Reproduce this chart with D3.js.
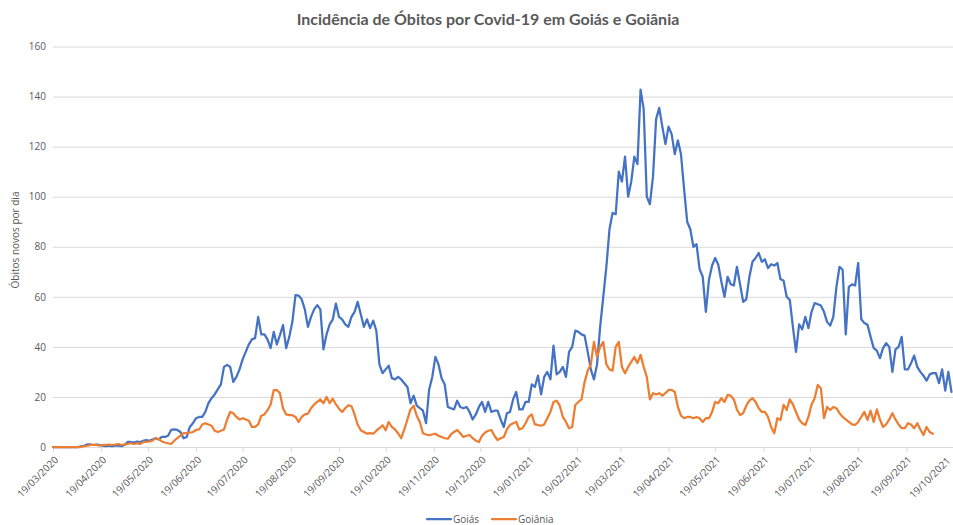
<!DOCTYPE html>
<html>
<head>
<meta charset="utf-8">
<script src="https://cdn.jsdelivr.net/npm/d3@7"></script>
<style>
  html, body { margin: 0; padding: 0; background: #fff; }
  svg { display: block; font-family: Lato, "Open Sans", sans-serif; }
</style>
</head>
<body>
<svg id="chart" width="953" height="525"></svg>
<script>
// Daily new deaths, sampled every 2 days starting 19/03/2020
const startDate = new Date(2020, 2, 19);
const stepDays = 2;

const goias = [
  0, 0, 0, 0, 0, 0, 0, 0, 0, 0.3, 0.5,
  1, 1, 0.8, 1, 0.8,
  0.5, 0.3, 0.5, 0.3, 0.5, 0.5, 0.3, 0.8,
  2, 2, 1.8, 2.2, 2, 2.5, 2.8,
  2.5, 3, 3.5, 3, 4, 4, 4.5, 6.8, 7, 6.8,
  6, 3.5, 4, 8, 9.5, 11.5, 12, 12, 14, 17.5,
  19.5, 21, 23, 25, 32, 32.8, 32, 26, 28, 31,
  35, 38, 41, 43, 43.5, 52, 45, 45, 43, 39.5,
  46, 41, 44.7, 48.7, 39.5, 44, 50, 60.7, 60.5, 59,
  55, 48, 52, 55, 56.7, 55, 39, 45, 49, 51,
  57.3, 52, 51, 49, 48, 52, 54, 58, 53, 48,
  51, 47.5, 50.5, 46.5, 33, 29.5, 31, 32.5, 27.5, 27,
  28, 27, 25.5, 24, 17.5, 20.5, 16.5, 15.5, 14.5, 9.5,
  23, 28, 36, 33, 27.5, 25, 16, 15.5, 15, 18.5,
  16, 15.5, 16, 14, 11, 13, 16, 18, 14, 18,
  14, 14.5, 14.5, 11, 8, 13.5, 14, 19, 22, 15,
  15, 18, 18, 25, 24, 28.5, 21, 28, 30, 27,
  40.5, 29, 30, 32, 28, 38, 40, 46.5, 46, 45,
  44.5, 38, 31, 27, 33, 48, 60, 72, 87, 93.5,
  93, 110, 106, 116, 100, 106, 116, 113, 142.8, 135,
  100, 97, 108, 131, 135.5, 128, 121, 128, 125, 117,
  122.5, 117, 103, 90, 87, 80, 81, 71, 68, 54,
  66.8, 72.5, 75.5, 72.8, 66, 60, 68, 65, 64.5, 72,
  65, 58, 59, 68, 74, 75.5, 77.5, 74, 75, 71.5,
  73, 72.5, 73.5, 67, 66.5, 60, 58.8, 48, 38, 49,
  47, 52, 47.5, 54, 57.5, 57, 56.5, 54, 50, 48.5,
  52, 64, 72, 70.8, 45, 64, 65, 64.5, 73.5, 51,
  49.5, 48.8, 44, 39.5, 38.5, 35.5, 39.5, 41.5, 40, 30,
  39, 40, 44, 31, 31, 33.5, 36.5, 32, 30, 28.5,
  26.5, 29, 29.5, 29.5, 25.5, 31, 22.5, 30, 22
];

const goiania = [
  0, 0, 0, 0, 0, 0, 0, 0, 0, 0, 0.3,
  0.5, 0.8, 0.8, 0.8, 0.5,
  0.8, 0.8, 1, 0.8, 1, 1.2, 0.8, 1,
  1.2, 1.5, 1.2, 1.5, 1.2, 2, 2,
  2.2, 2.5, 3.5, 3.2, 2.2, 1.8, 1.5, 1.2, 2.5, 3.5,
  4.5, 5.5, 5.5, 5.7, 6, 6.8, 7, 9, 9.5, 9,
  8.5, 6.5, 6, 6.5, 7, 11, 14, 13.5, 12, 11,
  11.5, 11, 10.5, 8, 8, 9, 12.5, 13, 14.7, 17,
  22.7, 22.7, 21.5, 15.5, 13, 12.7, 12.7, 12, 10, 12,
  13, 13.3, 15.5, 17, 18, 19, 17.5, 20, 17.5, 19.3,
  17, 15.3, 14, 15.5, 16.7, 16.3, 13, 9, 6.7, 6,
  5.3, 5.5, 5.3, 6.5, 7.5, 8.7, 6.7, 10, 8, 7,
  5.5, 3.5, 7, 11, 15, 16.5, 12.5, 10, 5.5, 5,
  4.7, 5, 5.3, 4.5, 4, 3.5, 3.3, 5, 6, 6.8,
  5.5, 4, 4.5, 4.8, 3.5, 2.5, 2, 4.5, 5.8, 6.5,
  6.8, 4.5, 2.8, 3.5, 4, 7, 8.8, 9.5, 10, 7,
  7.5, 9.5, 12, 13, 9, 8.8, 8.5, 9, 11.5, 14,
  18, 18.5, 16.5, 12, 10, 7.5, 8, 16.8, 18, 19,
  26, 30.5, 33, 42, 36, 40, 42, 33, 31, 30.5,
  40, 42, 32, 29.5, 32, 34, 36, 33.5, 36.8, 32,
  28, 19, 21.5, 21, 21.5, 20.5, 21.5, 22.8, 22.8, 22,
  16, 12.5, 11.5, 12, 12, 11.5, 12, 11.5, 10, 11.5,
  11.5, 14, 18, 17.5, 19.5, 18, 20.8, 20.5, 19, 15,
  12.8, 13.5, 16.5, 18.5, 19.5, 18, 15.5, 14, 14, 12,
  8, 5.5, 11.5, 10.8, 16.8, 14.8, 19, 17, 14, 11,
  9.5, 8.8, 12, 17, 19.5, 24.8, 23.5, 11.5, 16, 14.8,
  16, 15.5, 13.5, 12, 11, 10, 9, 8.8, 10, 12,
  14, 10.8, 14.5, 10, 15, 11, 8, 9, 11, 13.5,
  11, 9, 7.5, 7.5, 9.5, 9, 7.5, 9.5, 7, 4.8,
  8, 6, 5.3
];

const yTicks = [0, 20, 40, 60, 80, 100, 120, 140, 160];
const seriesNames = ["Goiás", "Goiânia"];
const seriesColors = ["#4472C4", "#ED7D31"];
const titleText = "Incidência de Óbitos por Covid-19 em Goiás e Goiânia";
const yAxisTitle = "Óbitos novos por dia";

const toPoints = arr => arr.map((v, i) => ({ date: d3.timeDay.offset(startDate, i * stepDays), value: v }));
const series = [toPoints(goias), toPoints(goiania)];

const svg = d3.select("#chart");
const margin = { left: 53, right: 953, top: 46.5, bottom: 447 };

const x = d3.scaleTime()
  .domain([startDate, new Date(2021, 9, 19)])
  .range([margin.left, margin.right]);
const y = d3.scaleLinear().domain([0, 160]).range([margin.bottom, margin.top]);

const gridColor = "#d9d9d9";
const textColor = "#595959";
const labelFont = "'Open Sans', sans-serif";

// horizontal gridlines and y labels
const yAxis = d3.axisLeft(y).tickValues(yTicks).tickSize(-(margin.right - margin.left)).tickPadding(7);
const gy = svg.append("g").attr("transform", `translate(${margin.left},0)`).call(yAxis);
gy.select(".domain").remove();
gy.selectAll(".tick line").attr("stroke", gridColor).attr("stroke-width", 1);
gy.selectAll(".tick text").attr("fill", textColor).style("font-size", "10px").style("font-family", labelFont);

// monthly x ticks on the 19th
const monthTicks = d3.timeMonth.range(new Date(2020, 2, 1), new Date(2021, 10, 1)).map(d => new Date(d.getFullYear(), d.getMonth(), 19));
const xAxis = d3.axisBottom(x).tickValues(monthTicks).tickFormat(d3.timeFormat("%d/%m/%Y")).tickSize(5).tickPadding(3);
const gx = svg.append("g").attr("transform", `translate(0,${margin.bottom})`).call(xAxis);
gx.select(".domain").attr("stroke", gridColor);
gx.selectAll(".tick line").attr("stroke", gridColor);
const lastTick = monthTicks.length - 1;
gx.selectAll(".tick text")
  .attr("fill", textColor)
  .style("font-size", "10px")
  .style("font-family", labelFont)
  .attr("text-anchor", "end")
  .attr("x", 0)
  .attr("y", 0)
  .attr("dy", "0.35em")
  // the last label sits at the right edge, so it is nudged inward
  .attr("transform", (d, i) => i === lastTick ? "translate(-5,12) rotate(-45)" : "translate(3,11) rotate(-45)");

// lines
const line = d3.line().x(d => x(d.date)).y(d => y(d.value));
series.forEach((s, k) => {
  svg.append("path")
    .datum(s)
    .attr("fill", "none")
    .attr("stroke", seriesColors[k])
    .attr("stroke-width", 2.25)
    .attr("stroke-linejoin", "round")
    .attr("stroke-linecap", "round")
    .attr("d", line);
});

// title
svg.append("text")
  .attr("x", 488).attr("y", 25)
  .attr("text-anchor", "middle")
  .attr("fill", textColor)
  .style("font-size", "16px")
  .style("font-weight", "bold")
  .text(titleText);

// y axis title
svg.append("text")
  .attr("transform", "translate(19,240) rotate(-90)")
  .attr("text-anchor", "middle")
  .attr("fill", textColor)
  .style("font-size", "10px")
  .style("font-family", labelFont)
  .text(yAxisTitle);

// legend
const legend = svg.append("g").attr("transform", "translate(0,519)");
const legendX = [427, 492];
seriesNames.forEach((name, k) => {
  const g = legend.append("g").attr("transform", `translate(${legendX[k]},0)`);
  g.append("line").attr("x1", 0).attr("x2", 24).attr("y1", 0).attr("y2", 0)
    .attr("stroke", seriesColors[k]).attr("stroke-width", 2.25).attr("stroke-linecap", "round");
  g.append("text").attr("x", 26).attr("y", 3.5)
    .attr("fill", textColor)
    .style("font-size", "10px")
    .style("font-family", labelFont)
    .text(name);
});
</script>
</body>
</html>
